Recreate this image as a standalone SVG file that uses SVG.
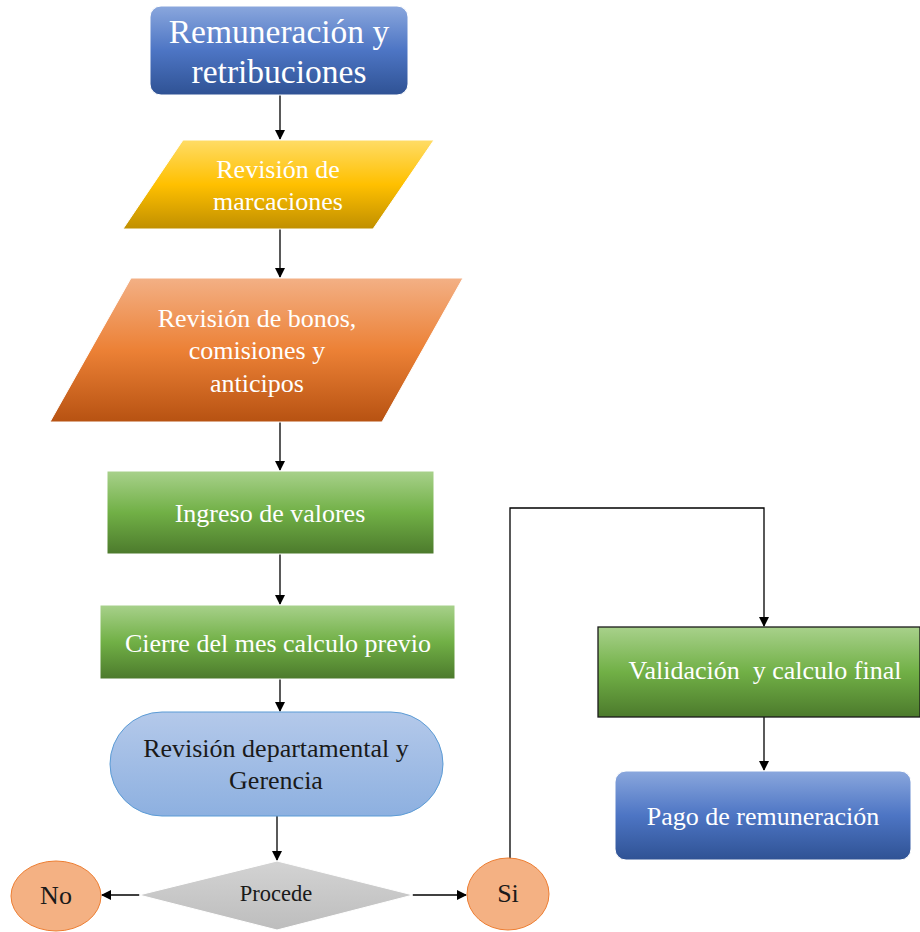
<svg xmlns="http://www.w3.org/2000/svg" width="920" height="932" viewBox="0 0 920 932">
<style>
.t{font-family:"Liberation Serif","Times New Roman",serif;font-size:26px;text-anchor:middle;fill:#ffffff}
.d{fill:#1a1a1a}
.c{stroke:#000;stroke-width:1.3;fill:none}
</style>
<defs>
<linearGradient id="gBlue" x1="0" y1="0" x2="0" y2="1"><stop offset="0" stop-color="#8aa7dd"/><stop offset="0.5" stop-color="#4d75c4"/><stop offset="1" stop-color="#2f5294"/></linearGradient>
<linearGradient id="gYel" x1="0" y1="0" x2="0" y2="1"><stop offset="0" stop-color="#ffdc66"/><stop offset="0.5" stop-color="#ffc000"/><stop offset="1" stop-color="#c08f00"/></linearGradient>
<linearGradient id="gOr" x1="0" y1="0" x2="0" y2="1"><stop offset="0" stop-color="#f3b085"/><stop offset="0.5" stop-color="#ec8136"/><stop offset="1" stop-color="#b75212"/></linearGradient>
<linearGradient id="gGr" x1="0" y1="0" x2="0" y2="1"><stop offset="0" stop-color="#a8d18b"/><stop offset="0.5" stop-color="#71b046"/><stop offset="1" stop-color="#4c7a2c"/></linearGradient>
<linearGradient id="gLb" x1="0" y1="0" x2="0" y2="1"><stop offset="0" stop-color="#b4c9ea"/><stop offset="1" stop-color="#8db0e0"/></linearGradient>
<linearGradient id="gGy" x1="0" y1="0" x2="0" y2="1"><stop offset="0" stop-color="#d3d3d3"/><stop offset="1" stop-color="#bdbdbd"/></linearGradient>
<marker id="ah" markerWidth="10" markerHeight="10" refX="9" refY="5" orient="auto" markerUnits="userSpaceOnUse"><path d="M0,0 L10,5 L0,10 z" fill="#000"/></marker>
</defs>

<g id="connectors">
<line class="c" x1="280" y1="95" x2="280" y2="139" marker-end="url(#ah)"/>
<line class="c" x1="280" y1="229" x2="280" y2="277" marker-end="url(#ah)"/>
<line class="c" x1="280" y1="422" x2="280" y2="470" marker-end="url(#ah)"/>
<line class="c" x1="280" y1="554" x2="280" y2="604" marker-end="url(#ah)"/>
<line class="c" x1="280" y1="679" x2="280" y2="711" marker-end="url(#ah)"/>
<line class="c" x1="277" y1="816" x2="277" y2="860" marker-end="url(#ah)"/>
<line class="c" x1="140" y1="895" x2="102" y2="895" marker-end="url(#ah)"/>
<line class="c" x1="412" y1="895" x2="466" y2="895" marker-end="url(#ah)"/>
<polyline class="c" points="510,859 510,508 764,508 764,626" marker-end="url(#ah)"/>
<line class="c" x1="764" y1="717" x2="764" y2="770" marker-end="url(#ah)"/>
</g>

<g id="n1">
<rect x="150" y="6" width="258" height="89" rx="11" fill="url(#gBlue)" stroke="#ffffff" stroke-width="1"/>
<text class="t" x="279" y="43" style="font-size:33.5px">Remuneración y</text>
<text class="t" x="279" y="83" style="font-size:33.5px">retribuciones</text>
</g>

<g id="n2">
<polygon points="183,140 434,140 373,229 123,229" fill="url(#gYel)" stroke="#ffffff" stroke-width="1"/>
<text class="t" x="278" y="178">Revisión de</text>
<text class="t" x="278" y="210">marcaciones</text>
</g>

<g id="n3">
<polygon points="131,278 463,278 382,422 50,422" fill="url(#gOr)" stroke="#ffffff" stroke-width="1"/>
<text class="t" x="257" y="327">Revisión de bonos,</text>
<text class="t" x="257" y="359">comisiones y</text>
<text class="t" x="257" y="392">anticipos</text>
</g>

<g id="n4">
<rect x="107" y="471" width="327" height="83" fill="url(#gGr)" stroke="#ffffff" stroke-width="1"/>
<text class="t" x="270" y="522">Ingreso de valores</text>
</g>

<g id="n5">
<rect x="100" y="605" width="355" height="74" fill="url(#gGr)" stroke="#ffffff" stroke-width="1"/>
<text class="t" x="278" y="652">Cierre del mes calculo previo</text>
</g>

<g id="n6">
<rect x="110" y="712" width="333" height="104" rx="52" fill="url(#gLb)" stroke="#5b9bd5" stroke-width="1"/>
<text class="t d" x="276" y="757">Revisión departamental y</text>
<text class="t d" x="276" y="789">Gerencia</text>
</g>

<g id="n7">
<polygon points="277,861 413,895 277,930 139,895" fill="url(#gGy)" stroke="#ffffff" stroke-width="1"/>
<text class="t d" x="276" y="901" style="font-size:22.5px">Procede</text>
</g>

<g id="n8">
<ellipse cx="56" cy="896" rx="45" ry="35" fill="#f4b183" stroke="#ed7d31" stroke-width="1"/>
<text class="t d" x="56" y="904">No</text>
</g>

<g id="n9">
<ellipse cx="508" cy="894" rx="41" ry="36" fill="#f4b183" stroke="#ed7d31" stroke-width="1"/>
<text class="t d" x="508" y="902">Si</text>
</g>

<g id="n10">
<rect x="598" y="627" width="322" height="90" fill="url(#gGr)" stroke="#1a1a1a" stroke-width="1.3"/>
<text class="t" x="765" y="679" xml:space="preserve" style="white-space:pre">Validación  y calculo final</text>
</g>

<g id="n11">
<rect x="615" y="771" width="296" height="89" rx="11" fill="url(#gBlue)" stroke="#ffffff" stroke-width="1"/>
<text class="t" x="763" y="825">Pago de remuneración</text>
</g>
</svg>
